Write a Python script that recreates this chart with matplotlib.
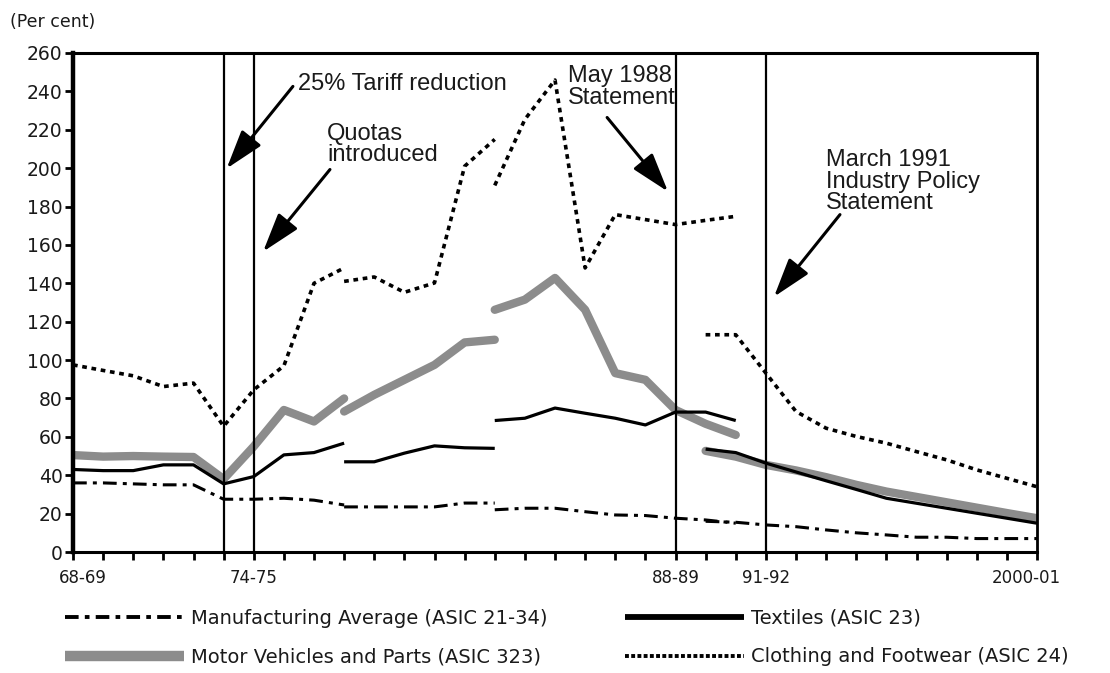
import matplotlib
matplotlib.use("Agg")
import matplotlib.pyplot as plt
import matplotlib.transforms as mtransforms
from matplotlib.lines import Line2D
import numpy as np

# ---------------- data ----------------
years = ["68-69", "69-70", "70-71", "71-72", "72-73", "73-74", "74-75", "75-76",
         "76-77", "77-78", "78-79", "79-80", "80-81", "81-82", "82-83", "83-84",
         "84-85", "85-86", "86-87", "87-88", "88-89", "89-90", "90-91", "91-92",
         "92-93", "93-94", "94-95", "95-96", "96-97", "97-98", "98-99", "99-00",
         "2000-01"]
labeled_years = ["68-69", "74-75", "88-89", "91-92", "2000-01"]
event_years = ["73-74", "74-75", "88-89", "91-92"]

# each series is broken into segments: (first year, values)
manufacturing_segments = [
    ("68-69", [36, 36, 35.5, 35, 35, 27.5, 27.5, 28, 27, 24.5]),
    ("77-78", [23.5, 23.5, 23.5, 23.5, 25.5, 25.5]),
    ("82-83", [22, 22.8, 22.8, 21, 19.3, 19, 17.6, 16.7, 15]),
    ("89-90", [16, 15.5, 14.1, 13.2, 11.5, 10, 8.9, 7.7, 7.7, 7, 7, 7]),
]
textiles_segments = [
    ("68-69", [43, 42.4, 42.4, 45.4, 45.4, 35.5, 39.3, 50.6, 51.8, 56.7]),
    ("77-78", [47, 47, 51.5, 55.3, 54.3, 54]),
    ("82-83", [68.5, 69.7, 75, 72.3, 69.7, 66.2, 72.9, 72.9, 68.5]),
    ("89-90", [53.6, 51.8, 46.3, 41.7, 37.1, 32.6, 28, 25.4, 22.8, 20.2, 17.6, 15]),
]
motor_segments = [
    ("68-69", [50.5, 49.7, 50, 49.7, 49.5, 38, 55, 74, 68, 80]),
    ("77-78", [73.2, 81.9, 89.7, 97.5, 109.2, 110.6]),
    ("82-83", [126.2, 131.5, 142.8, 126.2, 93.2, 89.7, 74, 66.8, 61]),
    ("89-90", [52.7, 49.7, 45.4, 42.5, 39, 35, 31.5, 28.7, 25.9, 23.1, 20.3, 17.6]),
]
clothing_segments = [
    ("68-69", [97.5, 94.6, 91.8, 86.2, 88, 65.5, 84.5, 97, 140, 148]),
    ("77-78", [141, 143.3, 135.3, 140.2, 201, 215]),
    ("82-83", [191, 225.4, 245.9, 148, 175.8, 173.2, 170.6, 172.8, 174.9]),
    ("89-90", [113.2, 113.2, 93.2, 73.2, 64.5, 60.2, 56.7, 52.3, 48, 42.8, 38.4, 34]),
]

series_labels = ["Manufacturing Average (ASIC 21-34)", "Motor Vehicles and Parts (ASIC 323)",
                 "Textiles (ASIC 23)", "Clothing and Footwear (ASIC 24)"]

# ---------------- styles ----------------
GRAY = "#8c8c8c"
manuf_style = dict(color="black", lw=2.2, dashes=(4.5, 2.0, 1.3, 2.0), dash_capstyle="butt")
textile_style = dict(color="black", lw=2.3, solid_capstyle="butt")
motor_style = dict(color=GRAY, lw=6.0, solid_capstyle="round", solid_joinstyle="round")
cloth_style = dict(color="black", lw=2.6, dashes=(1.3, 1.3), dash_capstyle="butt")

ANN_FONT = ["Liberation Sans", "DejaVu Sans"]
TXT = "#1a1a1a"

fig = plt.figure(figsize=(11.1, 6.73), dpi=100)
ax = fig.add_axes([73 / 1110, 1 - 552 / 673, 964 / 1110, 499 / 673])


def draw(segments, style, z):
    for start, vals in segments:
        i0 = years.index(start)
        x = np.arange(i0, i0 + len(vals))
        ax.plot(x, vals, zorder=z, **style)


draw(motor_segments, motor_style, 2)
draw(textiles_segments, textile_style, 3)
draw(manufacturing_segments, manuf_style, 3)
draw(clothing_segments, cloth_style, 3)

for ev in event_years:
    ax.axvline(years.index(ev), color="black", lw=1.6, zorder=4)

ax.set_xlim(0, len(years) - 1)
ax.set_ylim(0, 260)
ax.set_yticks(np.arange(0, 261, 20))
ax.set_xticks(np.arange(len(years)))
ax.set_xticklabels([y if y in labeled_years else "" for y in years])

for side, w in (("left", 3.2), ("bottom", 2.2), ("top", 2.2), ("right", 2.0)):
    ax.spines[side].set_linewidth(w)
    ax.spines[side].set_color("black")

ax.tick_params(axis="both", direction="out", length=6, width=2, color="black")
ax.tick_params(axis="y", pad=1.5, labelsize=13.5, labelcolor=TXT)
ax.tick_params(axis="x", pad=6, labelsize=12, labelcolor=TXT)

xl = ax.get_xticklabels()
xl[0].set_transform(xl[0].get_transform() +
                    mtransforms.ScaledTranslation(10 / 100, 0, fig.dpi_scale_trans))
xl[-1].set_transform(xl[-1].get_transform() +
                     mtransforms.ScaledTranslation(-11 / 100, 0, fig.dpi_scale_trans))

fig.text(10 / 1110, 1 - 22 / 673, "(Per cent)", fontsize=12.5, va="center", ha="left", color=TXT)

# ---------------- annotations ----------------
arrow_kw = dict(arrowstyle="-|>,head_length=1.2,head_width=0.38", mutation_scale=20,
                lw=2.2, color="black", shrinkA=0, shrinkB=0)
annotations = [
    ("25% Tariff reduction", (7.47, 243.6), (7.3, 242.6), (5.1, 199.8)),
    ("Quotas\nintroduced", (8.43, 212.3), (8.53, 199.3), (6.31, 156.5)),
    ("May 1988\nStatement", (16.43, 242.3), (17.73, 226.4), (19.75, 187.8)),
    ("March 1991\nIndustry Policy\nStatement", (24.99, 193.0), (25.46, 175.8), (23.27, 133.0)),
]
for text, tpos, tail, tip in annotations:
    ax.text(tpos[0], tpos[1], text, fontsize=17, family=ANN_FONT, ha="left", va="center",
            linespacing=0.95, color=TXT, zorder=6)
    ax.annotate("", xy=tip, xytext=tail, arrowprops=arrow_kw, zorder=6)

# ---------------- legend ----------------
handles = [
    Line2D([], [], color="black", lw=2.8, dashes=(3.5, 1.6, 1.2, 1.6), dash_capstyle="butt"),
    Line2D([], [], color=GRAY, lw=7.5, solid_capstyle="butt"),
    Line2D([], [], color="black", lw=4.2, solid_capstyle="butt"),
    Line2D([], [], color="black", lw=2.8, dashes=(1.0, 0.6), dash_capstyle="butt"),
]
leg = fig.legend(handles, series_labels, ncol=2, loc="upper left",
                 bbox_to_anchor=(65 / 1110, 1 - 609 / 673), frameon=False,
                 prop={"size": 14}, handlelength=6.1, handletextpad=0.37,
                 columnspacing=4.0, labelspacing=1.0, borderpad=0, borderaxespad=0)
for t in leg.get_texts():
    t.set_color(TXT)

fig.savefig("out.png", dpi=100)
